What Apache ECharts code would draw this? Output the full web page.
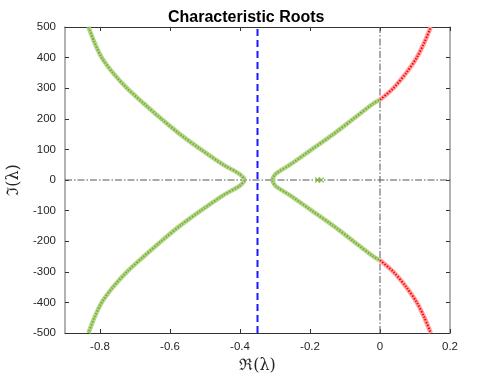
<!DOCTYPE html>
<html>
<head>
<meta charset="utf-8">
<script src="https://cdn.jsdelivr.net/npm/echarts@6/dist/echarts.min.js"></script>
<style>
  html, body { margin: 0; padding: 0; background: #fff; }
  #chart { width: 498px; height: 374px; }
</style>
</head>
<body>
<div id="chart"></div>
<script>
// roots, ordered along each branch
var upLeftX  = [-0.833, -0.816, -0.795, -0.763, -0.723, -0.675, -0.625, -0.572, -0.512, -0.448, -0.402, -0.386];
var upLeftY  = [500, 450, 400, 350, 300, 250, 200, 150, 100, 50, 20, 2];
var lowLeftX = [-0.386, -0.402, -0.448, -0.512, -0.572, -0.625, -0.675, -0.723, -0.763, -0.795, -0.816, -0.833];
var lowLeftY = [-2, -20, -50, -100, -150, -200, -250, -300, -350, -400, -450, -500];

var upRightX  = [-0.308, -0.298, -0.257, -0.195, -0.133, -0.076, -0.019, 0];
var upRightY  = [2, 20, 50, 100, 150, 200, 250, 262];
var lowRightX = [-0.308, -0.298, -0.257, -0.195, -0.133, -0.076, -0.019, 0];
var lowRightY = [-2, -20, -50, -100, -150, -200, -250, -262];

var upRedX  = [0, 0.038, 0.075, 0.105, 0.127, 0.145];
var upRedY  = [262, 300, 350, 400, 450, 500];
var lowRedX = [0, 0.038, 0.075, 0.105, 0.127, 0.145];
var lowRedY = [-262, -300, -350, -400, -450, -500];

var realRootsX = [-0.178, -0.168];
var realRootsY = [0, 0];

var abscissa = -0.35;   // blue dashed line
var xTicks = [-0.8, -0.6, -0.4, -0.2, 0, 0.2];

function pts(xs, ys) {
  return xs.map(function (x, i) { return [x, ys[i]]; });
}

var green = '#77AC30', greenLight = '#b3d68a';
var red = '#ff0000', redLight = '#ff9f9f';
var crossPath = 'path://M0,0L10,10M10,0L0,10';

function branch(xs, ys, col, light) {
  return [
    { type: 'line', data: pts(xs, ys), smooth: 0.3, showSymbol: false, silent: true,
      lineStyle: { color: light, width: 4.5 }, z: 3 },
    { type: 'line', data: pts(xs, ys), smooth: 0.3, showSymbol: false, silent: true,
      lineStyle: { color: col, width: 2, type: [1.5, 1.5] }, z: 4 }
  ];
}

var series = [];
series = series.concat(branch(upLeftX, upLeftY, green, greenLight));
series = series.concat(branch(lowLeftX, lowLeftY, green, greenLight));
series = series.concat(branch(upRightX, upRightY, green, greenLight));
series = series.concat(branch(lowRightX, lowRightY, green, greenLight));
series = series.concat(branch(upRedX, upRedY, red, redLight));
series = series.concat(branch(lowRedX, lowRedY, red, redLight));

series.push({
  type: 'scatter', data: pts(realRootsX, realRootsY), symbol: crossPath, symbolSize: 5,
  itemStyle: { borderColor: green, borderWidth: 1.2, color: 'none' }, z: 5
});

// dash-dot zero lines
series.push({
  type: 'line', data: [[-0.9, 0], [0.2, 0]], showSymbol: false, silent: true, z: 2,
  lineStyle: { color: '#555', width: 1, type: [7, 2, 1.5, 2] }
});
series.push({
  type: 'line', data: [[0, -500], [0, 500]], showSymbol: false, silent: true, z: 2,
  lineStyle: { color: '#555', width: 1, type: [7, 2, 1.5, 2] }
});
series.push({
  type: 'line', data: [[abscissa, -500], [abscissa, 500]], showSymbol: false, silent: true, z: 6,
  lineStyle: { color: '#1a1aff', width: 2, type: [7, 4] }
});

var axisFont = { fontFamily: 'Liberation Sans', fontSize: 11.5, color: '#262626' };

var chart = echarts.init(document.getElementById('chart'));
chart.setOption({
  animation: false,
  title: {
    text: 'Characteristic Roots', left: 163, top: 5,
    textStyle: { fontFamily: 'Liberation Sans', fontSize: 16, fontWeight: 'bold', color: '#000' }
  },
  grid: { left: 65, right: 48, top: 27, bottom: 41, outerBoundsMode: 'none' },
  xAxis: [{
    type: 'value', min: -0.9, max: 0.2, position: 'bottom',
    name: 'ℜ(λ)', nameLocation: 'middle', nameGap: 20,
    nameTextStyle: { fontFamily: 'DejaVu Serif', fontSize: 16, color: '#262626' },
    axisLine: { onZero: false, lineStyle: { color: '#333', width: 1 } },
    axisTick: { inside: true, length: 4, customValues: xTicks, lineStyle: { color: '#333' } },
    axisLabel: Object.assign({ margin: 8, customValues: xTicks }, axisFont),
    splitLine: { show: false }
  }, {
    type: 'value', min: -0.9, max: 0.2, position: 'top',
    axisLine: { onZero: false, lineStyle: { color: '#333', width: 1 } },
    axisTick: { inside: true, length: 4, customValues: xTicks, lineStyle: { color: '#333' } },
    axisLabel: { show: false },
    splitLine: { show: false }
  }],
  yAxis: [{
    type: 'value', min: -500, max: 500, interval: 100, position: 'left',
    name: 'ℑ(λ)', nameLocation: 'middle', nameGap: 40, nameRotate: 90,
    nameTextStyle: { fontFamily: 'DejaVu Serif', fontSize: 16, color: '#262626' },
    axisLine: { onZero: false, lineStyle: { color: '#999', width: 1.5 } },
    axisTick: { inside: true, length: 4, lineStyle: { color: '#333' } },
    axisLabel: Object.assign({ margin: 9 }, axisFont),
    splitLine: { show: false }
  }, {
    type: 'value', min: -500, max: 500, interval: 100, position: 'right',
    axisLine: { onZero: false, lineStyle: { color: '#999', width: 1.5 } },
    axisTick: { inside: true, length: 4, lineStyle: { color: '#333' } },
    axisLabel: { show: false },
    splitLine: { show: false }
  }],
  series: series
});
</script>
</body>
</html>
